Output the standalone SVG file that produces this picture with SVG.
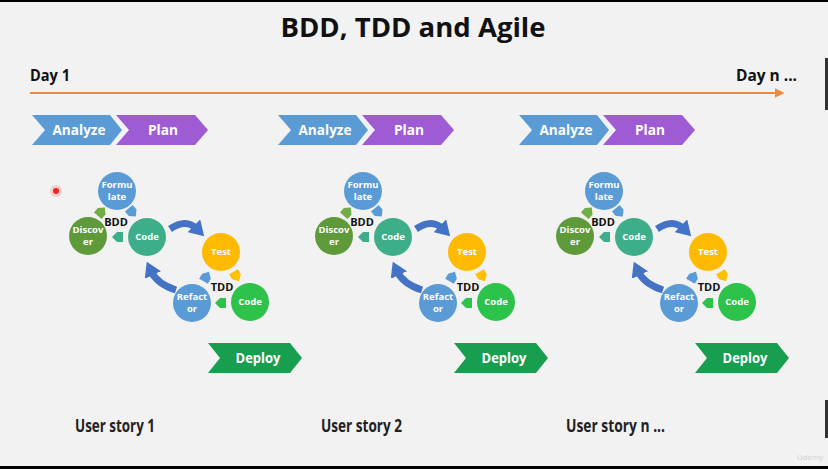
<svg xmlns="http://www.w3.org/2000/svg" width="828" height="469" viewBox="0 0 828 469">
<defs>
<style>
.t{font-family:"Open Sans","Liberation Sans",sans-serif;font-weight:bold}
.w{fill:#fff;text-anchor:middle}
.c{font-size:9.5px}
.k{fill:#111;font-size:11px;text-anchor:middle}
.us{fill:#222;font-size:17px}
.big{fill:none;stroke:#4472C4;stroke-width:7;stroke-linecap:butt}
</style>
<path id="pa" d="M-5,-5 L1,-5 L6,0 L1,5 L-5,5 Z"/>
<marker id="ah" markerUnits="userSpaceOnUse" markerWidth="18" markerHeight="18" refX="4" refY="8" orient="auto" viewBox="0 0 16 16">
<path d="M0,0 L13,8 L0,16 Z" fill="#4472C4"/>
</marker>
<marker id="oh" markerUnits="userSpaceOnUse" markerWidth="10" markerHeight="10" refX="6" refY="4" orient="auto" viewBox="0 0 8 8">
<path d="M0,0 L8,4 L0,8 Z" fill="#F08A3C"/>
</marker>
<g id="story">
<g id="analyze"><polygon points="32,115 110,115 122,130 110,145 32,145 45,130" fill="#5B9BD5"/><text class="t w" x="79" y="135" font-size="14" textLength="53" lengthAdjust="spacingAndGlyphs">Analyze</text></g>
<g id="plan"><polygon points="116,115 195,115 208,130 195,145 116,145 129,130" fill="#9E5BD4"/><text class="t w" x="163" y="135" font-size="14" textLength="30" lengthAdjust="spacingAndGlyphs">Plan</text></g>
<g id="connectors">
<path class="big" d="M170,229 Q186,218 197,229" marker-end="url(#ah)"/>
<path class="big" d="M176,290 Q157,284 151,271" marker-end="url(#ah)"/>
</g>
<text class="t k" x="116" y="226">BDD</text>
<text class="t k" x="222" y="291">TDD</text>
<g id="formulate"><circle cx="117" cy="191" r="19" fill="#5B9BD5"/><text class="t w c" x="117" y="188">Formu</text><text class="t w c" x="117" y="200">late</text></g>
<g id="discover"><circle cx="88" cy="236" r="19" fill="#5E9A3A"/><text class="t w c" x="88" y="233">Discov</text><text class="t w c" x="88" y="245">er</text></g>
<g id="code1"><circle cx="147" cy="237" r="19" fill="#3EAE8A"/><text class="t w c" x="147" y="240">Code</text></g>
<g id="test"><circle cx="221" cy="252" r="19" fill="#FFBA00"/><text class="t w c" x="221" y="255">Test</text></g>
<g id="refactor"><circle cx="192" cy="303" r="19" fill="#5B9BD5"/><text class="t w c" x="192" y="300">Refact</text><text class="t w c" x="192" y="312">or</text></g>
<g id="code2"><circle cx="250" cy="302" r="19" fill="#2DC24A"/><text class="t w c" x="250" y="305">Code</text></g>
<g id="small-arrows">
<use href="#pa" transform="translate(101,212) rotate(-50)" fill="#70AD47"/>
<use href="#pa" transform="translate(132,212) rotate(50)" fill="#5B9BD5"/>
<use href="#pa" transform="translate(118,237) rotate(180)" fill="#3EAE8A"/>
<use href="#pa" transform="translate(236,276) rotate(60)" fill="#FFC000"/>
<use href="#pa" transform="translate(221,303) rotate(180)" fill="#2DC24A"/>
<use href="#pa" transform="translate(206,277) rotate(-60)" fill="#5B9BD5"/>
</g>
<g id="deploy"><polygon points="208,343 290,343 302,358 290,373 208,373 220,358" fill="#179E4E"/><text class="t w" x="258" y="363" font-size="14" textLength="45" lengthAdjust="spacingAndGlyphs">Deploy</text></g>
</g>
</defs>
<rect width="828" height="469" fill="#F2F2F2"/>
<rect x="0" y="0" width="828" height="2" fill="#000"/>
<rect x="0" y="466" width="828" height="3" fill="#000"/>
<rect x="825" y="58" width="3" height="52" fill="#333"/>
<rect x="825" y="400" width="3" height="38" fill="#333"/>
<text class="t" x="413" y="37" font-size="27" fill="#111" text-anchor="middle" textLength="265" lengthAdjust="spacingAndGlyphs">BDD, TDD and Agile</text>
<text class="t" x="30" y="81" font-size="16" fill="#111" textLength="40" lengthAdjust="spacingAndGlyphs">Day 1</text>
<text class="t" x="736" y="81" font-size="16" fill="#111" textLength="61" lengthAdjust="spacingAndGlyphs">Day n ...</text>
<g id="timeline"><line x1="30" y1="93" x2="782" y2="93" stroke="#F08A3C" stroke-width="2" marker-end="url(#oh)"/></g>
<g id="story1"><use href="#story"/></g>
<g id="story2"><use href="#story" transform="translate(246,0)"/></g>
<g id="story3"><use href="#story" transform="translate(487,0)"/></g>
<text class="t us" x="75" y="432" textLength="80" lengthAdjust="spacingAndGlyphs">User story 1</text>
<text class="t us" x="321" y="432" textLength="81" lengthAdjust="spacingAndGlyphs">User story 2</text>
<text class="t us" x="566" y="432" textLength="99" lengthAdjust="spacingAndGlyphs">User story n ...</text>
<circle cx="56" cy="191" r="6" fill="#F66" opacity="0.25"/>
<circle cx="56" cy="191" r="3" fill="#E22"/>
<text x="810" y="460" font-family="Open Sans, sans-serif" font-size="8" fill="#D0D0D0" text-anchor="middle">Udemy</text>
</svg>
